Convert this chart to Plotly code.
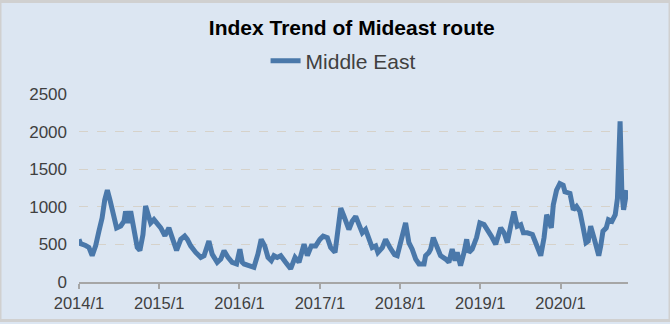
import plotly.graph_objects as go

# Mideast route freight index, sampled dates and index values
dates = [
    "2014-01-01", "2014-01-08", "2014-01-31", "2014-02-15", "2014-03-02", "2014-03-18",
    "2014-04-02", "2014-04-16", "2014-04-28", "2014-05-10", "2014-05-22", "2014-06-06",
    "2014-06-21", "2014-07-10", "2014-07-25", "2014-08-01", "2014-08-12", "2014-08-24",
    "2014-09-08", "2014-09-23", "2014-10-05", "2014-10-19", "2014-10-31", "2014-11-11",
    "2014-11-23", "2014-12-08", "2014-12-23", "2015-01-08", "2015-01-27", "2015-02-14",
    "2015-03-01", "2015-03-21", "2015-04-09", "2015-04-27", "2015-05-09", "2015-05-24",
    "2015-06-16", "2015-07-09", "2015-07-24", "2015-08-15", "2015-08-30", "2015-09-22",
    "2015-10-08", "2015-10-23", "2015-11-10", "2015-11-29", "2015-12-19", "2016-01-03",
    "2016-01-14", "2016-01-22", "2016-02-13", "2016-03-07", "2016-03-25", "2016-04-09",
    "2016-04-25", "2016-05-10", "2016-05-25", "2016-06-06", "2016-06-21", "2016-07-07",
    "2016-07-29", "2016-08-21", "2016-09-10", "2016-09-28", "2016-10-21", "2016-11-05",
    "2016-11-23", "2016-12-13", "2017-01-01", "2017-01-16", "2017-02-04", "2017-02-19",
    "2017-03-11", "2017-03-24", "2017-04-06", "2017-04-21", "2017-05-13", "2017-05-28",
    "2017-06-13", "2017-06-28", "2017-07-13", "2017-07-28", "2017-08-12", "2017-08-27",
    "2017-09-12", "2017-09-22", "2017-10-12", "2017-10-27", "2017-11-16", "2017-12-07",
    "2017-12-19", "2018-01-03", "2018-01-15", "2018-01-26", "2018-02-10", "2018-02-25",
    "2018-03-13", "2018-03-28", "2018-04-20", "2018-04-27", "2018-05-12", "2018-05-20",
    "2018-06-01", "2018-06-16", "2018-07-04", "2018-07-27", "2018-08-11", "2018-08-26",
    "2018-09-08", "2018-09-18", "2018-10-03", "2018-10-19", "2018-10-31", "2018-11-10",
    "2018-11-25", "2018-12-15", "2018-12-30", "2019-01-18", "2019-02-02", "2019-02-20",
    "2019-03-12", "2019-04-04", "2019-04-19", "2019-05-04", "2019-05-19", "2019-06-03",
    "2019-06-18", "2019-07-04", "2019-07-16", "2019-08-03", "2019-08-26", "2019-09-10",
    "2019-10-03", "2019-10-18", "2019-10-30", "2019-11-20", "2019-11-29", "2019-12-14",
    "2019-12-29", "2020-01-13", "2020-01-21", "2020-02-13", "2020-02-28", "2020-03-14",
    "2020-03-29", "2020-04-13", "2020-04-26", "2020-05-06", "2020-05-17", "2020-06-01",
    "2020-06-14", "2020-06-23", "2020-07-02", "2020-07-12", "2020-07-27", "2020-08-06",
    "2020-08-22", "2020-09-06", "2020-09-16", "2020-09-28", "2020-10-06", "2020-10-14",
    "2020-10-29",
]
middle_east = [
    567, 510, 485, 460, 350, 485,
    680, 850, 1090, 1220, 1090, 895,
    720, 745, 810, 940, 785, 940,
    680, 460, 420, 630, 1010, 895,
    785, 830, 785, 720, 615, 720,
    590, 420, 567, 610, 567, 480,
    393, 327, 350, 545, 370, 262,
    305, 415, 327, 262, 240, 436,
    262, 240, 218, 196, 370, 567,
    480, 327, 284, 350, 327, 350,
    262, 175, 327, 262, 502, 350,
    480, 480, 567, 610, 590, 458,
    393, 742, 982, 873, 698, 808,
    873, 763, 654, 698, 567, 458,
    480, 393, 458, 567, 458, 362,
    350, 545, 632, 785, 524, 436,
    305, 240, 240, 350, 393, 436,
    590, 458, 350, 305, 262, 436,
    284, 393, 218, 393, 567, 393,
    436, 590, 785, 763, 698, 610,
    502, 720, 654, 524, 742, 938,
    742, 763, 654, 654, 632, 524,
    350, 590, 895, 720, 1025, 1222,
    1309, 1287, 1200, 1178, 960, 1004,
    938, 720, 524, 545, 742, 590,
    458, 350, 480, 676, 720, 829,
    808, 895, 1113, 2138, 1200, 960,
    1222,
]

year_ticks = ["2014-01-01", "2015-01-01", "2016-01-01", "2017-01-01",
              "2018-01-01", "2019-01-01", "2020-01-01"]
year_labels = ["2014/1", "2015/1", "2016/1", "2017/1", "2018/1", "2019/1", "2020/1"]
y_ticks = [0, 500, 1000, 1500, 2000, 2500]

BG = "#DCE6F2"
LINE = "#4A78AA"
TEXT = "#404040"
FONT = "Liberation Sans, Arial, sans-serif"

fig = go.Figure()
fig.add_trace(go.Scatter(
    x=dates, y=middle_east, mode="lines", name="Middle East",
    line=dict(color=LINE, width=5, shape="linear"),
))

fig.update_layout(
    width=670, height=324,
    paper_bgcolor=BG, plot_bgcolor=BG,
    margin=dict(l=79, r=42, t=94, b=39),
    font=dict(family=FONT, color=TEXT),
    title=dict(
        text="<b>Index Trend of Mideast route</b>",
        x=0.525, xanchor="center", y=0.915, yanchor="middle",
        font=dict(family=FONT, size=21, color="#000000"),
    ),
    showlegend=True,
    legend=dict(
        orientation="h", x=0.481, xanchor="center", y=1.175, yanchor="middle",
        font=dict(family=FONT, size=21, color=TEXT),
        bgcolor="rgba(0,0,0,0)",
    ),
    shapes=[dict(type="rect", xref="paper", yref="paper",
                 x0=-79 / 549, x1=1 + 42 / 549, y0=-39 / 191, y1=1 + 94 / 191,
                 line=dict(color="#D0D0D0", width=3), fillcolor="rgba(0,0,0,0)")],
)

fig.update_xaxes(
    type="date", range=["2014-01-01", "2020-11-03"],
    tickvals=year_ticks, ticktext=year_labels,
    showgrid=False, showline=True, linecolor="#A6A6A6", linewidth=1.5,
    ticks="outside", ticklen=5, tickcolor="#A6A6A6", tickwidth=1.5,
    tickfont=dict(family=FONT, size=16.5, color=TEXT),
)
fig.update_yaxes(
    range=[0, 2500], tickvals=y_ticks,
    showgrid=True, gridcolor="#D6D2CA", gridwidth=1.2, griddash="dash",
    zeroline=False, showline=False, ticks="",
    tickfont=dict(family=FONT, size=17, color=TEXT), ticklabelstandoff=11,
)

fig.write_html("out.html")
